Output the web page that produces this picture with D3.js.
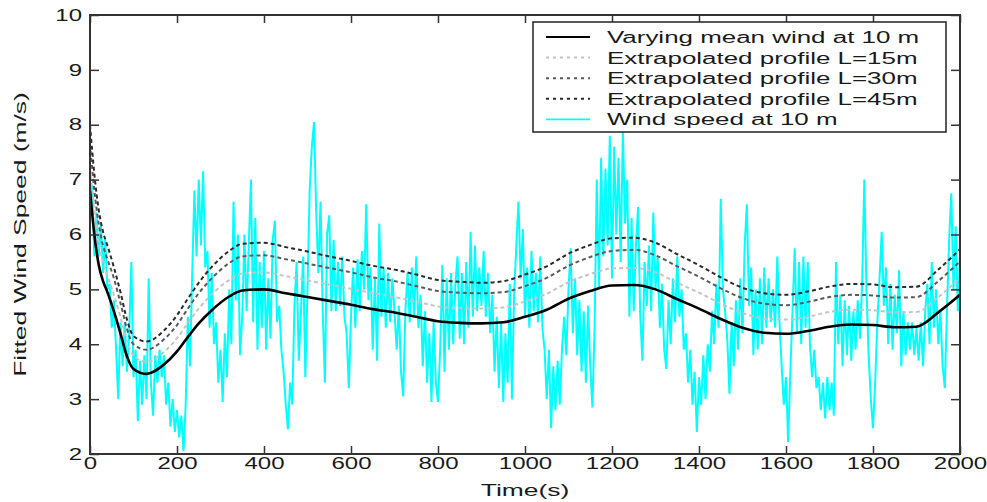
<!DOCTYPE html>
<html>
<head>
<meta charset="utf-8">
<script src="https://cdn.jsdelivr.net/npm/d3@7"></script>
<style>
    body { margin: 0; background: #fff; }
    svg { display: block; }
    text { font-family: "Liberation Sans", Arial, sans-serif; fill: #1a1a1a; }
</style>
</head>
<body>
<div id="chart"></div>
<script>
// wind speed at 10 m, one value every 5 s (t = 0 .. 2000)
const windStep = 5;
const windSpeed = [
    6.3, 6.9, 5.6, 6.4, 5.6, 6.2, 5.3, 5.9, 5.0, 5.1,
    4.3, 4.8, 3.9, 3.0, 4.4, 3.6, 4.4, 3.5, 4.2, 5.5,
    3.4, 3.9, 2.6, 3.7, 2.9, 3.8, 3.0, 5.2, 3.3, 2.7,
    3.8, 3.3, 3.9, 3.4, 3.8, 2.9, 3.3, 2.5, 3.0, 2.4,
    2.8, 2.3, 2.7, 2.05, 2.9, 4.5, 3.6, 5.3, 6.8, 5.6,
    7.0, 5.8, 7.15, 5.4, 5.7, 4.3, 5.3, 4.0, 4.4, 3.3,
    3.9, 2.95, 4.2, 3.4, 5.0, 4.0, 6.6, 4.8, 6.0, 3.8,
    4.5, 6.0, 4.6, 5.8, 7.0, 4.4, 6.3, 3.9, 5.5, 4.3,
    5.7, 3.9, 5.2, 4.1, 5.9, 6.25, 4.4, 4.7, 3.9, 3.5,
    2.9, 2.45, 3.3, 2.9, 4.7, 5.5, 3.7, 4.6, 5.6, 3.4,
    5.0, 6.8, 7.6, 8.05, 6.4, 5.3, 6.6, 4.6, 3.3, 6.0,
    6.35, 4.6, 5.9, 4.6, 5.5, 4.7, 5.6, 4.5, 4.2, 3.2,
    4.5, 5.4, 4.3, 5.55, 4.6, 5.7, 5.0, 6.55, 4.8, 5.4,
    3.9, 5.2, 3.7, 6.2, 4.5, 5.4, 4.3, 5.3, 4.4, 5.2,
    4.6, 3.9, 4.7, 3.5, 3.05, 4.6, 5.3, 4.4, 5.4, 4.5,
    5.6, 4.3, 4.9, 3.6, 4.6, 3.3, 4.2, 2.95, 4.4, 3.3,
    2.95, 3.9, 5.45, 3.5, 5.2, 3.9, 5.3, 4.0, 5.1, 5.6,
    4.1, 5.3, 4.0, 5.5, 4.3, 6.05, 4.5, 5.8, 4.6, 5.4,
    4.7, 5.7, 4.5, 5.3, 4.2, 4.9, 3.5, 4.5, 3.2, 4.4,
    2.95, 4.2, 3.3, 5.1, 3.0, 4.9, 5.8, 6.6, 5.2, 6.1,
    4.5, 5.4, 4.3, 5.7, 4.6, 5.3, 4.4, 5.6, 4.3, 3.9,
    3.0, 3.9, 2.47, 3.6, 2.8, 3.7, 2.9, 3.9, 4.5, 3.8,
    5.0, 5.75, 4.2, 5.2, 3.8, 4.8, 3.5, 4.6, 3.3, 4.7,
    3.6, 2.85, 4.3, 7.0, 5.0, 7.4, 5.6, 7.2, 5.8, 7.8,
    5.2, 7.6, 6.0, 7.4, 5.5, 7.9, 6.2, 7.0, 4.5, 6.3,
    4.6, 5.8, 6.5, 4.5, 3.7, 5.5, 4.7, 5.8, 4.6, 6.4,
    5.0, 5.6, 4.3, 5.1, 3.9, 3.55, 4.8, 4.0, 5.2, 4.4,
    5.6, 4.5, 5.0, 3.9, 4.2, 3.3, 3.9, 2.9, 3.5, 2.4,
    3.4, 2.9, 3.8, 3.0, 4.0, 3.5, 4.6, 4.0, 5.1, 4.3,
    6.65, 5.0, 4.6, 4.1, 3.1, 4.4, 3.6, 4.8, 3.9, 5.2,
    4.2, 5.8, 6.55, 4.7, 5.4, 3.8, 5.0, 3.9, 5.2, 4.0,
    5.4, 4.3, 5.2, 4.4, 5.0, 4.3, 5.6, 4.4, 3.6, 2.9,
    3.4, 2.22, 3.5, 4.6, 5.75, 4.2, 5.5, 4.0, 5.6, 4.3,
    5.5, 4.0, 3.4, 3.9, 3.2, 3.4, 2.8, 3.3, 2.65, 3.4,
    2.8, 3.3, 2.7, 5.5, 4.0, 4.9, 3.6, 4.8, 3.8, 4.7,
    3.7, 4.6, 3.9, 4.8, 4.1, 5.1, 7.0, 5.0, 3.8, 3.0,
    2.47, 3.3, 4.4, 5.2, 6.05, 4.7, 5.4, 4.0, 5.1, 3.9,
    4.9, 4.2, 5.35, 3.6, 4.6, 3.8, 4.4, 3.9, 4.4, 3.8,
    4.3, 3.7, 4.4, 3.6, 4.6, 5.1, 4.0, 5.5, 4.3, 5.0,
    4.0, 4.6, 3.6, 3.2, 4.6, 5.9, 6.75, 5.0, 6.15, 4.6,
    5.6
];

// smooth curves share one time axis
const profileTime = [
    0, 10, 20, 30, 40, 55, 70, 85, 100, 130,
    170, 200, 220, 250, 280, 320, 350, 400, 450, 500,
    550, 600, 650, 700, 750, 800, 850, 900, 950, 1000,
    1050, 1100, 1150, 1200, 1250, 1300, 1350, 1400, 1450, 1500,
    1550, 1600, 1650, 1700, 1750, 1800, 1850, 1900, 1950, 2000
];
const meanWind10 = [
    6.8, 6.0, 5.45, 5.15, 4.95, 4.6, 4.2, 3.78, 3.55, 3.46,
    3.63, 3.87, 4.08, 4.38, 4.62, 4.87, 4.98, 5.0, 4.93, 4.86,
    4.79, 4.72, 4.64, 4.58, 4.5, 4.42, 4.39, 4.38, 4.4, 4.5,
    4.63, 4.83, 4.97, 5.07, 5.08, 5.0, 4.82, 4.65, 4.46, 4.3,
    4.21, 4.19, 4.24, 4.32, 4.36, 4.35, 4.31, 4.32, 4.58, 4.9
];
const profileL15 = [
    7.2, 6.45, 5.85, 5.5, 5.25, 4.9, 4.5, 4.05, 3.8, 3.68,
    3.86, 4.11, 4.33, 4.65, 4.91, 5.17, 5.29, 5.31, 5.24, 5.16,
    5.09, 5.01, 4.93, 4.86, 4.78, 4.69, 4.66, 4.65, 4.67, 4.78,
    4.92, 5.13, 5.28, 5.38, 5.39, 5.31, 5.12, 4.94, 4.74, 4.57,
    4.47, 4.45, 4.5, 4.59, 4.63, 4.62, 4.58, 4.59, 4.86, 5.2
];
const profileL30 = [
    7.65, 6.8, 6.2, 5.8, 5.55, 5.2, 4.75, 4.28, 4.0, 3.9,
    4.09, 4.35, 4.59, 4.93, 5.2, 5.48, 5.6, 5.62, 5.55, 5.47,
    5.39, 5.31, 5.22, 5.15, 5.06, 4.97, 4.94, 4.93, 4.95, 5.06,
    5.21, 5.43, 5.59, 5.7, 5.72, 5.62, 5.42, 5.23, 5.02, 4.84,
    4.74, 4.71, 4.77, 4.86, 4.9, 4.89, 4.85, 4.86, 5.15, 5.51
];
const profileL45 = [
    8.0, 7.1, 6.45, 6.05, 5.8, 5.4, 4.95, 4.45, 4.15, 4.05,
    4.25, 4.53, 4.77, 5.12, 5.41, 5.7, 5.83, 5.85, 5.77, 5.69,
    5.6, 5.52, 5.43, 5.36, 5.27, 5.17, 5.14, 5.12, 5.15, 5.27,
    5.42, 5.65, 5.81, 5.93, 5.94, 5.85, 5.64, 5.44, 5.22, 5.03,
    4.93, 4.9, 4.96, 5.05, 5.1, 5.09, 5.04, 5.05, 5.36, 5.73
];

const xTicks = [0, 200, 400, 600, 800, 1000, 1200, 1400, 1600, 1800, 2000];
const yTicks = [2, 3, 4, 5, 6, 7, 8, 9, 10];

const legendLabels = [
    "Varying mean wind at 10 m",
    "Extrapolated profile L=15m",
    "Extrapolated profile L=30m",
    "Extrapolated profile L=45m",
    "Wind speed at 10 m"
];

const width = 987, height = 502;
const margin = {top: 15, right: 27, bottom: 48, left: 90};
const plotW = width - margin.left - margin.right;
const plotH = height - margin.top - margin.bottom;

const x = d3.scaleLinear().domain([0, 2000]).range([0, plotW]);
const y = d3.scaleLinear().domain([2, 10]).range([plotH, 0]);

const svg = d3.select("#chart").append("svg")
    .attr("width", width)
    .attr("height", height);

const g = svg.append("g")
    .attr("transform", "translate(" + margin.left + "," + margin.top + ")");

// stretch text the way the old bitmap looks
function widen(sel, k) {
    sel.each(function() {
        const w = this.getComputedTextLength();
        d3.select(this)
            .attr("textLength", w * k)
            .attr("lengthAdjust", "spacingAndGlyphs");
    });
}

g.append("clipPath").attr("id", "plotClip")
    .append("rect").attr("width", plotW).attr("height", plotH);

const plot = g.append("g").attr("clip-path", "url(#plotClip)");

const windLine = d3.line()
    .x((d, i) => x(i * windStep))
    .y(d => y(d));

plot.append("path")
    .datum(windSpeed)
    .attr("fill", "none")
    .attr("stroke", "#00ffff")
    .attr("stroke-width", 2)
    .attr("stroke-linejoin", "miter")
    .attr("d", windLine);

const profileLine = d3.line()
    .x((d, i) => x(profileTime[i]))
    .y(d => y(d))
    .curve(d3.curveMonotoneX);

const series = [
    {values: profileL15, color: "#c4c4c4", dash: "4,3", width: 2},
    {values: profileL30, color: "#5a5a5a", dash: "4,3", width: 2},
    {values: profileL45, color: "#2a2a2a", dash: "4,3", width: 2},
    {values: meanWind10, color: "#000", dash: null, width: 2.6}
];

series.forEach(s => {
    plot.append("path")
        .datum(s.values)
        .attr("fill", "none")
        .attr("stroke", s.color)
        .attr("stroke-width", s.width)
        .attr("stroke-dasharray", s.dash)
        .attr("d", profileLine);
});

// axes, ticks pointing inward on all four sides
const xAxis = g.append("g")
    .attr("transform", "translate(0," + plotH + ")")
    .call(d3.axisBottom(x).tickValues(xTicks).tickFormat(d3.format("d"))
        .tickSize(-8).tickPadding(4).tickSizeOuter(0));
g.append("g")
    .call(d3.axisTop(x).tickValues(xTicks).tickSize(-8).tickFormat("").tickSizeOuter(0));
const yAxis = g.append("g")
    .call(d3.axisLeft(y).tickValues(yTicks).tickFormat(d3.format("d"))
        .tickSize(-9).tickPadding(8).tickSizeOuter(0));
g.append("g")
    .attr("transform", "translate(" + plotW + ",0)")
    .call(d3.axisRight(y).tickValues(yTicks).tickSize(-9).tickFormat("").tickSizeOuter(0));

g.selectAll(".domain").remove();
g.selectAll(".tick line").attr("stroke", "#333").attr("stroke-width", 1.5);
g.selectAll(".tick text")
    .attr("font-size", 16)
    .attr("fill", "#1a1a1a")
    .style("font-family", "'Liberation Sans', Arial, sans-serif");
widen(xAxis.selectAll(".tick text"), 1.5);
widen(yAxis.selectAll(".tick text"), 1.5);

g.append("rect")
    .attr("width", plotW)
    .attr("height", plotH)
    .attr("fill", "none")
    .attr("stroke", "#333")
    .attr("stroke-width", 2);

// legend
const legend = svg.append("g").attr("transform", "translate(533,22)");
legend.append("rect")
    .attr("width", 413)
    .attr("height", 110)
    .attr("fill", "#fff")
    .attr("stroke", "#222")
    .attr("stroke-width", 1.5);

const legendStyle = [series[3], series[0], series[1], series[2],
    {color: "#00ffff", dash: null, width: 1.7}];

legendLabels.forEach((label, i) => {
    const ly = 21 + i * 20.6;
    const s = legendStyle[i];
    legend.append("line")
        .attr("x1", 13).attr("x2", 57)
        .attr("y1", ly - 6).attr("y2", ly - 6)
        .attr("stroke", s.color)
        .attr("stroke-width", Math.min(s.width, 2))
        .attr("stroke-dasharray", s.dash ? "3,4" : null);
    const t = legend.append("text")
        .attr("x", 74)
        .attr("y", ly)
        .attr("font-size", 16)
        .text(label);
    widen(t, 1.62);
});

// axis titles
const xt = svg.append("text")
    .attr("x", 525)
    .attr("y", 496)
    .attr("text-anchor", "middle")
    .attr("font-size", 16)
    .text("Time(s)");
widen(xt, 1.65);

const yt = svg.append("text")
    .attr("transform", "translate(26," + (margin.top + plotH / 2) + ") rotate(-90)")
    .attr("text-anchor", "middle")
    .attr("font-size", 16)
    .text("Fitted Wind Speed (m/s)");
widen(yt, 1.65);
</script>
</body>
</html>
